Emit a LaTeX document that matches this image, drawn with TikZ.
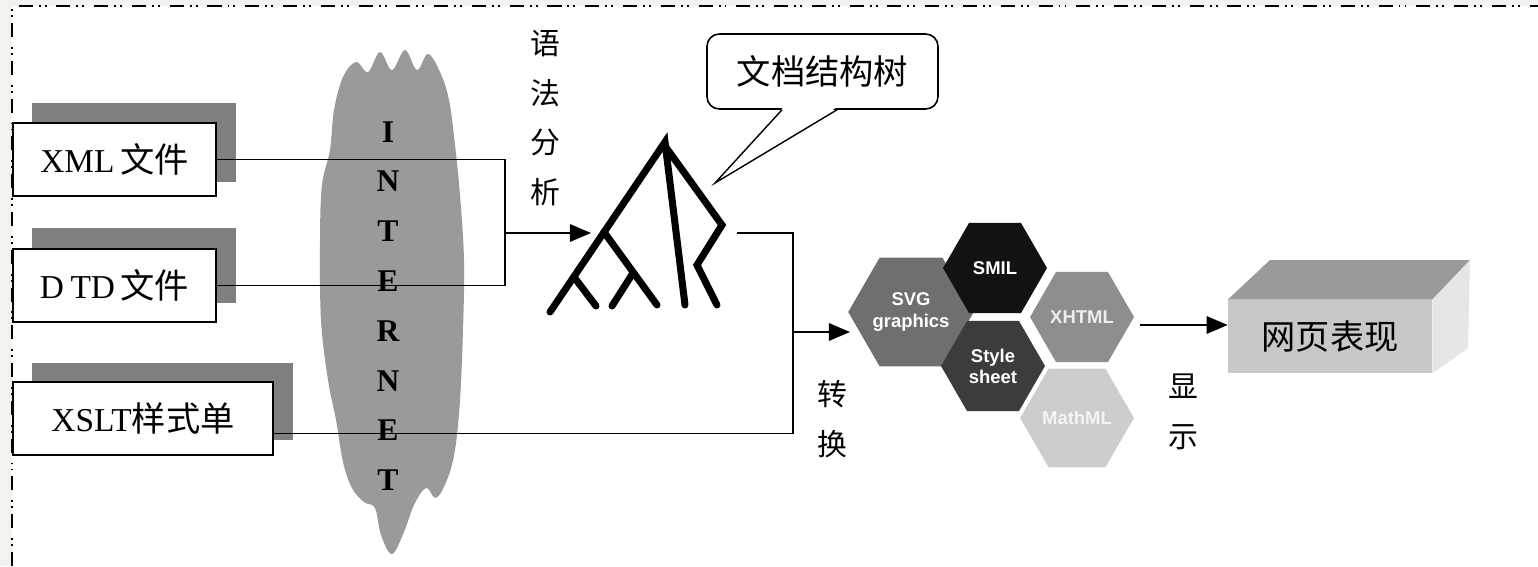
\documentclass[tikz,border=0pt]{standalone}
\usepackage{fontspec}
\setmainfont{Liberation Serif}
\newfontfamily\cjk{Noto Sans CJK SC}
\newfontfamily\hexfont{Liberation Sans}
\usetikzlibrary{arrows.meta,shapes.geometric,calc}

\definecolor{edgegray}{HTML}{F2F3EF}
\definecolor{shadowgray}{HTML}{7F7F7F}
\definecolor{cloudgray}{HTML}{9A9A9A}
\definecolor{hexsvg}{HTML}{6F6F6F}
\definecolor{hexsmil}{HTML}{121212}
\definecolor{hexstyle}{HTML}{3C3C3C}
\definecolor{hexxhtml}{HTML}{8E8E8E}
\definecolor{hexmath}{HTML}{CDCDCD}
\definecolor{boxtop}{HTML}{9A9A9A}
\definecolor{boxfront}{HTML}{C8C8C8}
\definecolor{boxside}{HTML}{E6E6E6}

\newcommand\zhtext[1]{{\cjk\fontsize{19.5}{22}\selectfont #1}}

\begin{document}
\begin{tikzpicture}[x=0.02cm,y=-0.02cm,
  frameline/.style={line width=1.1pt,
    dash pattern=on 8pt off 3.4pt on 1.1pt off 2.3pt on 1.1pt off 5.6pt},
  filebox/.style={draw, fill=white, line width=1pt, minimum height=1.46cm,
    inner sep=0pt, font=\fontsize{19}{22}\selectfont},
  wire/.style={line width=0.8pt},
  arrowwire/.style={wire, -{Triangle[length=12pt,width=10pt]}},
  treeline/.style={line width=4pt, line cap=round, line join=miter},
  vlabel/.style={align=center, inner sep=0pt,
    font=\cjk\fontsize{17}{28.3}\selectfont},
  hexcell/.style={regular polygon, regular polygon sides=6, inner sep=0pt,
    minimum size=2.08cm, align=center,
    font=\hexfont\bfseries\fontsize{10.5}{12}\selectfont},
]
\useasboundingbox (0,0) rectangle (1538,566);
\fill[edgegray] (0,0) rectangle (1538,566);
\fill[white] (12,6) rectangle (1538,566);
\draw[frameline] (12,566) -- (12,6) -- (1538,6);

% drop shadows of the three file boxes
\fill[shadowgray] (32,103) rectangle (236,182);
\fill[shadowgray] (32,228) rectangle (236,303);
\fill[shadowgray] (32,363) rectangle (293,440);

% source files
\node[filebox, minimum width=4.06cm] (xml)  at (114.5,159.5) {XML\,\zhtext{文件}};
\node[filebox, minimum width=4.06cm] (dtd)  at (114.5,285.5) {D\hspace{0.2em}TD\,\zhtext{文件}};
\node[filebox, minimum width=5.2cm]  (xslt) at (143,418.5)   {XSLT\zhtext{样式单}};

% the internet cloud
\fill[cloudgray] plot[smooth cycle, tension=0.6] coordinates {
  (343,77) (356,62) (368,72) (380,52) (392,70) (405,50) (417,70) (428,54)
  (440,72) (449,100) (455,145) (460,195) (464,260) (463,330) (460,400)
  (455,450) (447,480) (436,498) (426,488) (414,505) (404,532) (392,554)
  (381,535) (375,508) (364,502) (352,488) (343,462) (336,420) (328,380)
  (321,320) (320,240) (322,185) (330,150) (334,110)};
\node[align=center, inner sep=0pt, font=\bfseries\fontsize{18}{28.35}\selectfont]
  (net) at (388,306) {I\\N\\T\\E\\R\\N\\E\\T};

% parse step labels
\node[vlabel] (parse) at (545,118) {语\\法\\分\\析};
\node[vlabel] (convert) at (832,419) {转\\换};
\node[vlabel] (show) at (1183,412) {显\\示};

% document structure tree
\coordinate (treein)  at (591,233);
\coordinate (treeout) at (737,233);
\draw[treeline] (550,312) -- (665,142) -- (685,305);
\draw[treeline] (665,146) -- (722,225) -- (697,265) -- (717,305);
\draw[treeline] (604,232) -- (657,305);
\draw[treeline] (574,277) -- (596,306);
\draw[treeline] (633,273) -- (612,306);

% callout naming the tree
\node[draw, fill=white, line width=0.9pt, rounded corners=7pt,
  minimum width=4.62cm, minimum height=1.5cm, inner sep=0pt] (callout)
  at (822.5,71.5) {\zhtext{文档结构树}};
\coordinate (tailA) at ($(callout.south)+(-40.5,0)$);
\coordinate (tailB) at ($(callout.south)+(14.5,0)$);
\coordinate (tailtip) at (715,183);
\fill[white] ($(tailA)+(1,-2)$) -- (tailtip) -- ($(tailB)+(-1,-2)$) -- cycle;
\draw[line width=0.8pt] (tailA) -- (tailtip) -- (tailB);

% inputs merge into the parser
\coordinate (merge) at (505,233);
\draw[wire] (xml.east) -- (xml.east -| merge) -- (dtd.east -| merge) -- (dtd.east);
\draw[arrowwire] (merge) -- (treein);

% tree and stylesheet go to the transformation
\coordinate (xsltout) at ($(xslt.east)+(0,15)$);
\coordinate (join) at (793,332);
\draw[wire] (treeout) -- (treeout -| join) -- (xsltout -| join) -- (xsltout);
\coordinate (hexin) at (850,332);
\draw[arrowwire] (join) -- (hexin);

% output technologies
\node[hexcell, fill=hexsvg, minimum size=2.16cm, text=white] (svg) at (911,312) {SVG\\graphics};
\node[hexcell, fill=hexsmil, text=white] (smil) at (995,268) {SMIL};
\node[hexcell, fill=hexstyle, text=white] (style) at (993,366) {Style\\sheet};
\node[hexcell, fill=hexxhtml, text=white!85!hexxhtml] (xhtml) at (1082,317) {XHTML};
\node[hexcell, fill=hexmath, text=white!80!hexmath] (mathml) at (1077,418) {MathML};

% rendered web page block
\node[fill=boxfront, minimum width=4.08cm, minimum height=1.46cm, inner sep=0pt]
  (page) at (1330,336.5) {\zhtext{网页表现}};
\fill[boxtop] (page.north west) -- (1270,260) -- (1470,260) -- (page.north east) -- cycle;
\fill[boxside] (page.north east) -- (1470,260) -- (1468,348) -- (page.south east) -- cycle;

\coordinate (hexout) at (1140,325);
\draw[arrowwire] (hexout) -- (hexout -| page.west);
\end{tikzpicture}
\end{document}
